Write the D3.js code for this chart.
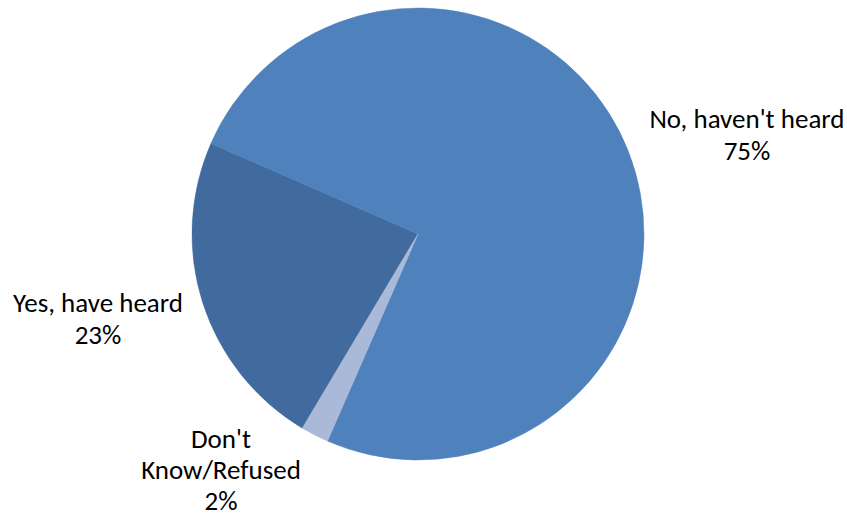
<!DOCTYPE html>
<html>
<head>
<meta charset="utf-8">
<script src="https://cdn.jsdelivr.net/npm/d3@7"></script>
<style>
  html, body { margin: 0; padding: 0; background: #fff; }
  svg { display: block; }
  text { font-family: Carlito, Calibri, Lato, "Open Sans", sans-serif; font-size: 27px; fill: #000; }
</style>
</head>
<body>
<svg id="chart" width="847" height="516"></svg>
<script>
// Survey answers, in drawing order (clockwise)
const categories = ["Yes, have heard", "No, haven't heard", "Don't Know/Refused"];
const shares = [23, 75, 2];
const sliceColors = ["#416B9E", "#4F81BD", "#AAB9D7"];
const labelLines = [["Yes, have heard", "23%"], ["No, haven't heard", "75%"], ["Don't", "Know/Refused", "2%"]];

const width = 847, height = 516;
const cx = 418, cy = 234, radius = 226;
const deg = Math.PI / 180;

const svg = d3.select("#chart");
const data = categories.map((c, i) => ({ name: c, value: shares[i], color: sliceColors[i], lines: labelLines[i] }));

const pie = d3.pie()
  .value(d => d.value)
  .sort(null)
  .startAngle(210.8 * deg)
  .endAngle(210.8 * deg + 2 * Math.PI);

const arc = d3.arc().innerRadius(0).outerRadius(radius);

const g = svg.append("g").attr("transform", `translate(${cx},${cy})`);
const arcs = pie(data);

g.selectAll("path.slice")
  .data(arcs)
  .join("path")
  .attr("class", "slice")
  .attr("d", arc)
  .attr("fill", d => d.data.color)
  .attr("stroke", d => d.data.color)
  .attr("stroke-width", 0.5);

// Label anchor (center x, first baseline, line spacing) for each category
const labelPos = {
  "Yes, have heard": [98, 312, 32],
  "No, haven't heard": [747, 128, 32],
  "Don't Know/Refused": [221, 448, 31]
};

const labels = svg.selectAll("text.lbl")
  .data(arcs)
  .join("text")
  .attr("class", "lbl")
  .attr("text-anchor", "middle")
  .attr("x", d => labelPos[d.data.name][0])
  .attr("y", d => labelPos[d.data.name][1]);

labels.selectAll("tspan")
  .data(d => d.data.lines.map(t => ({ t, x: labelPos[d.data.name][0], lh: labelPos[d.data.name][2] })))
  .join("tspan")
  .attr("x", d => d.x)
  .attr("dy", (d, i) => i === 0 ? 0 : d.lh)
  .text(d => d.t);
</script>
</body>
</html>
